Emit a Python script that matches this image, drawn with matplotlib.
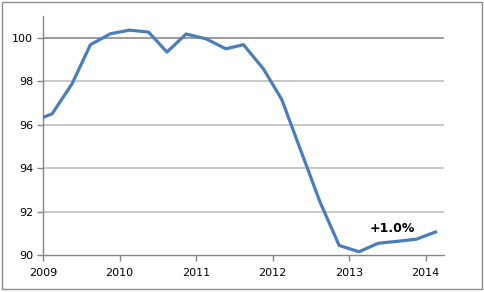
import matplotlib.pyplot as plt
from matplotlib.patches import Rectangle

# quarterly index, position in decimal years
years = [2009.00, 2009.12, 2009.38, 2009.62, 2009.88, 2010.13, 2010.38, 2010.62,
         2010.87, 2011.13, 2011.39, 2011.62, 2011.88, 2012.12, 2012.37, 2012.62,
         2012.87, 2013.13, 2013.38, 2013.63, 2013.88, 2014.13]
values = [96.33, 96.50, 97.88, 99.68, 100.18, 100.35, 100.26, 99.34,
          100.17, 99.95, 99.49, 99.68, 98.57, 97.16, 94.80, 92.44,
          90.44, 90.15, 90.54, 90.63, 90.73, 91.06]
xticks = [2009, 2010, 2011, 2012, 2013, 2014]
yticks = [90, 92, 94, 96, 98, 100]
note = "+1.0%"

fig = plt.figure(figsize=(4.84, 2.92), dpi=100)
ax = fig.add_axes([0.0888, 0.1267, 0.8285, 0.8185])

# outer frame round the whole chart
fig.patches.append(Rectangle((0.005, 0.009), 0.99, 0.983, transform=fig.transFigure,
                             fill=False, edgecolor="#8c8c8c", linewidth=1.0))

for y in yticks[1:]:
    col = "#8a8a8a" if y == 100 else "#c0c0c0"
    ax.axhline(y, color=col, linewidth=1.2, zorder=1)

ax.plot(years, values, color="#4a7ebb", linewidth=2.3, zorder=3)

ax.set_xlim(2009, 2014.24)
ax.set_ylim(90, 101)
ax.set_xticks(xticks)
ax.set_xticklabels([str(t) for t in xticks])
ax.set_yticks(yticks)

for s in ["top", "right"]:
    ax.spines[s].set_visible(False)
for s in ["left", "bottom"]:
    ax.spines[s].set_color("#868686")
    ax.spines[s].set_linewidth(1.0)

ax.tick_params(axis="both", direction="out", length=4, width=1.0,
               color="#868686", labelsize=8, labelcolor="black")
ax.tick_params(axis="x", pad=5)
ax.tick_params(axis="y", pad=3)

ax.text(2013.57, 91.23, note, ha="center", va="center",
        fontsize=9, fontweight="bold")

plt.savefig("out.png", dpi=100)
